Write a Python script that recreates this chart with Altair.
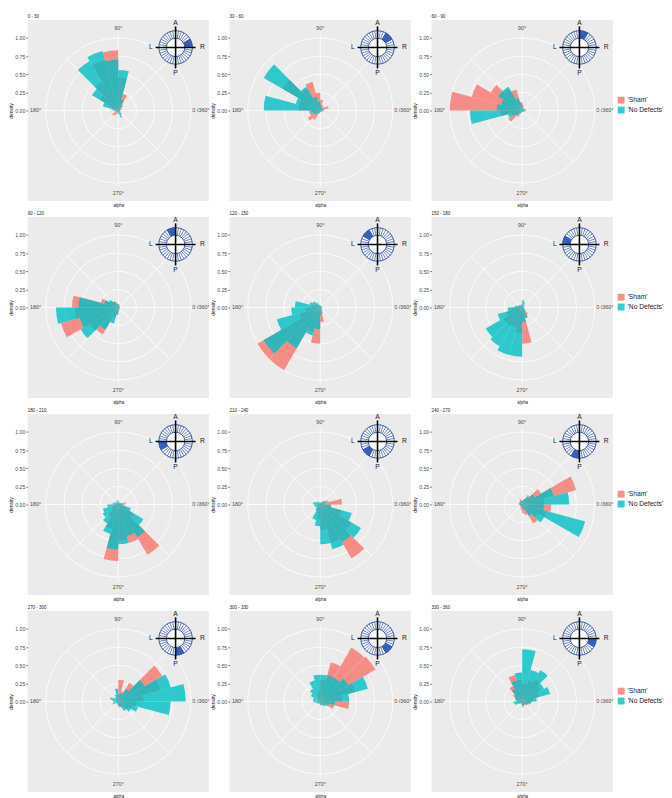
import math
import altair as alt
import pandas as pd

# ---------------- data ----------------
BIN_STARTS = list(range(0, 360, 15))   # histogram bins, degrees (0 = right, counter-clockwise)
BIN_WIDTH = 15

PANEL_TITLES = ["0 - 30", "30 - 60", "60 - 90", "90 - 120", "120 - 150", "150 - 180",
                "180 - 210", "210 - 240", "240 - 270", "270 - 300", "300 - 330", "330 - 360"]
PANEL_FROM = [0, 30, 60, 90, 120, 150, 180, 210, 240, 270, 300, 330]
PANEL_TO = [30, 60, 90, 120, 150, 180, 210, 240, 270, 300, 330, 360]

sham_000_030 = [0.03, 0.05, 0.05, 0.10, 0.24, 0.45, 0.83, 0.72, 0.45, 0.30, 0.10, 0.05,
                0.04, 0.06, 0.10, 0.08, 0.05, 0.03, 0.02, 0.03, 0.02, 0.02, 0.02, 0.02]
nodef_000_030 = [0.02, 0.03, 0.04, 0.08, 0.15, 0.56, 0.70, 0.85, 0.79, 0.42, 0.22, 0.08,
                 0.03, 0.03, 0.02, 0.02, 0.02, 0.03, 0.05, 0.10, 0.07, 0.04, 0.03, 0.02]
sham_030_060 = [0.05, 0.12, 0.08, 0.05, 0.08, 0.15, 0.25, 0.41, 0.35, 0.60, 0.30, 0.30,
                0.12, 0.15, 0.20, 0.15, 0.05, 0.03, 0.02, 0.02, 0.03, 0.03, 0.03, 0.05]
nodef_030_060 = [0.03, 0.05, 0.05, 0.05, 0.05, 0.08, 0.12, 0.20, 0.38, 0.90, 0.35, 0.78,
                 0.15, 0.10, 0.08, 0.05, 0.03, 0.02, 0.02, 0.02, 0.02, 0.02, 0.02, 0.03]
sham_060_090 = [0.05, 0.05, 0.03, 0.03, 0.05, 0.08, 0.12, 0.30, 0.35, 0.50, 0.72, 1.00,
                0.30, 0.15, 0.22, 0.10, 0.03, 0.02, 0.02, 0.02, 0.02, 0.02, 0.03, 0.05]
nodef_060_090 = [0.04, 0.04, 0.03, 0.03, 0.03, 0.05, 0.10, 0.18, 0.38, 0.38, 0.30, 0.35,
                 0.72, 0.20, 0.10, 0.05, 0.03, 0.02, 0.02, 0.02, 0.02, 0.02, 0.03, 0.04]
sham_090_120 = [0.02, 0.02, 0.02, 0.03, 0.03, 0.05, 0.05, 0.08, 0.10, 0.12, 0.25, 0.64,
                0.60, 0.82, 0.45, 0.43, 0.15, 0.08, 0.04, 0.03, 0.02, 0.02, 0.02, 0.02]
nodef_090_120 = [0.02, 0.02, 0.02, 0.02, 0.03, 0.04, 0.05, 0.06, 0.10, 0.15, 0.20, 0.55,
                 0.86, 0.55, 0.60, 0.35, 0.23, 0.10, 0.05, 0.03, 0.02, 0.02, 0.02, 0.02]
sham_120_150 = [0.02, 0.02, 0.02, 0.02, 0.02, 0.02, 0.03, 0.03, 0.05, 0.05, 0.08, 0.12,
                0.20, 0.30, 1.00, 1.00, 0.35, 0.50, 0.20, 0.08, 0.04, 0.03, 0.02, 0.02]
nodef_120_150 = [0.02, 0.02, 0.02, 0.02, 0.02, 0.02, 0.03, 0.04, 0.08, 0.12, 0.15, 0.35,
                 0.40, 0.62, 0.90, 0.65, 0.40, 0.30, 0.10, 0.05, 0.03, 0.02, 0.02, 0.02]
sham_150_180 = [0.02, 0.02, 0.02, 0.02, 0.02, 0.03, 0.03, 0.03, 0.03, 0.04, 0.05, 0.08,
                0.15, 0.22, 0.30, 0.30, 0.28, 0.35, 0.50, 0.15, 0.12, 0.05, 0.03, 0.02]
nodef_150_180 = [0.02, 0.03, 0.04, 0.05, 0.08, 0.10, 0.05, 0.04, 0.04, 0.05, 0.06, 0.10,
                 0.20, 0.35, 0.58, 0.62, 0.68, 0.68, 0.20, 0.15, 0.06, 0.04, 0.03, 0.02]
sham_180_210 = [0.10, 0.05, 0.03, 0.02, 0.02, 0.02, 0.03, 0.03, 0.02, 0.02, 0.03, 0.03,
                0.05, 0.08, 0.10, 0.20, 0.35, 0.78, 0.50, 0.55, 0.80, 0.25, 0.12, 0.05]
nodef_180_210 = [0.05, 0.04, 0.03, 0.03, 0.03, 0.04, 0.06, 0.05, 0.04, 0.05, 0.06, 0.08,
                 0.15, 0.22, 0.25, 0.30, 0.42, 0.62, 0.55, 0.45, 0.52, 0.40, 0.18, 0.08]
sham_210_240 = [0.30, 0.12, 0.05, 0.03, 0.02, 0.02, 0.02, 0.02, 0.02, 0.03, 0.03, 0.04,
                0.05, 0.05, 0.05, 0.08, 0.12, 0.20, 0.35, 0.55, 0.86, 0.50, 0.30, 0.15]
nodef_210_240 = [0.05, 0.08, 0.08, 0.05, 0.03, 0.03, 0.03, 0.03, 0.05, 0.06, 0.08, 0.10,
                 0.08, 0.08, 0.06, 0.10, 0.22, 0.30, 0.55, 0.64, 0.60, 0.65, 0.45, 0.15]
sham_240_270 = [0.30, 0.77, 0.30, 0.15, 0.08, 0.05, 0.06, 0.08, 0.05, 0.04, 0.03, 0.03,
                0.03, 0.03, 0.03, 0.04, 0.05, 0.08, 0.12, 0.15, 0.30, 0.25, 0.35, 0.40]
nodef_240_270 = [0.65, 0.45, 0.20, 0.12, 0.08, 0.05, 0.05, 0.04, 0.05, 0.05, 0.04, 0.05,
                 0.04, 0.03, 0.03, 0.03, 0.03, 0.04, 0.05, 0.08, 0.18, 0.35, 0.90, 0.30]
sham_270_300 = [0.35, 0.60, 0.70, 0.30, 0.15, 0.30, 0.10, 0.05, 0.05, 0.04, 0.04, 0.03,
                0.03, 0.03, 0.03, 0.03, 0.04, 0.05, 0.08, 0.08, 0.10, 0.15, 0.20, 0.25]
nodef_270_300 = [0.93, 0.75, 0.42, 0.20, 0.12, 0.10, 0.18, 0.10, 0.06, 0.08, 0.12, 0.08,
                 0.06, 0.08, 0.04, 0.03, 0.03, 0.03, 0.05, 0.08, 0.15, 0.20, 0.28, 0.72]
sham_300_330 = [0.30, 0.50, 0.88, 0.86, 0.56, 0.30, 0.15, 0.10, 0.05, 0.04, 0.03, 0.03,
                0.03, 0.03, 0.03, 0.03, 0.03, 0.04, 0.05, 0.06, 0.08, 0.10, 0.20, 0.40]
nodef_300_330 = [0.40, 0.68, 0.45, 0.38, 0.38, 0.37, 0.37, 0.30, 0.20, 0.15, 0.10, 0.10,
                 0.08, 0.05, 0.05, 0.03, 0.03, 0.03, 0.05, 0.05, 0.05, 0.08, 0.12, 0.20]
sham_330_360 = [0.15, 0.25, 0.30, 0.35, 0.30, 0.25, 0.30, 0.38, 0.25, 0.15, 0.10, 0.08,
                0.06, 0.05, 0.04, 0.03, 0.03, 0.04, 0.05, 0.05, 0.06, 0.08, 0.10, 0.12]
nodef_330_360 = [0.20, 0.40, 0.35, 0.50, 0.45, 0.72, 0.40, 0.30, 0.20, 0.12, 0.10, 0.08,
                 0.12, 0.10, 0.05, 0.03, 0.03, 0.04, 0.08, 0.06, 0.05, 0.06, 0.08, 0.12]

SHAM = [sham_000_030, sham_030_060, sham_060_090, sham_090_120, sham_120_150, sham_150_180,
        sham_180_210, sham_210_240, sham_240_270, sham_270_300, sham_300_330, sham_330_360]
NODEF = [nodef_000_030, nodef_030_060, nodef_060_090, nodef_090_120, nodef_120_150, nodef_150_180,
         nodef_180_210, nodef_210_240, nodef_240_270, nodef_270_300, nodef_300_330, nodef_330_360]

GROUPS = ["'Sham'", "'No Defects'"]
GROUP_COLORS = ["#F8766D", "#00BFC4"]

# polar guides
TICK_VALUES = [0, 0.25, 0.5, 0.75, 1.0]
GRID_RADII = [0.25, 0.5, 0.75, 1.0]
SPOKE_ANGLES = [0, 45, 90, 135, 180, 225, 270, 315]
SPOKE_LENGTHS = [1.06, 1.0, 1.06, 1.0, 1.06, 1.0, 1.06, 1.0]
ANGLE_LABEL_ANGLES = [0, 90, 180, 270]
ANGLE_LABEL_TEXTS = ["0 /360°", "90°", "180°", "270°"]
ANGLE_LABEL_RADIUS = 1.14

# compass inset (in data units of the panel)
COMPASS_X = 0.79
COMPASS_Y = 0.87
RING_OUTER = 0.231
RING_INNER = 0.127
RING_DIVISIONS = list(range(0, 360, 10))
CROSS_HALF_X = 0.276
CROSS_HALF_Y = 0.29
COMPASS_LETTERS = ["A", "P", "L", "R"]
LETTER_DX = [0.0, 0.0, -0.34, 0.37]
LETTER_DY = [0.33, -0.35, 0.0, 0.0]

# ---------------- styling ----------------
PANEL = 184
LIM = 1.25
FONT = "Liberation Sans"
TEXT_GRAY = "#4D4D4D"
RING_LINE = "#2A4D9C"
RING_FILL = "#3B66C6"

XS = alt.Scale(domain=[-LIM, LIM], nice=False, zero=False)
YS = alt.Scale(domain=[-LIM, LIM], nice=False, zero=False)
RS = alt.Scale(type="linear", domain=[0, LIM], range=[0, PANEL / 2], nice=False, zero=True)
TS = alt.Scale(type="linear", domain=[0, 360], range=[math.pi / 2, math.pi / 2 - 2 * math.pi],
               nice=False, zero=False)

X_AX = alt.Axis(title="alpha", labels=False, ticks=False, domain=False, grid=False,
                titleFontSize=4.5, titleFontWeight="normal", titleColor="#1A1A1A", titlePadding=1)
Y_AX = alt.Axis(title="density", values=TICK_VALUES, format=".2f", grid=False, domain=False,
                tickSize=2, tickColor="#333333", tickWidth=0.6, labelFontSize=5.2,
                labelColor=TEXT_GRAY, labelPadding=1, labelFlush=False, titleFontSize=5,
                titleFontWeight="normal", titleColor="#1A1A1A", titlePadding=1.5)


def X(f):
    return alt.X(f"{f}:Q", scale=XS, axis=X_AX)


def Y(f):
    return alt.Y(f"{f}:Q", scale=YS, axis=Y_AX)


DEG = "PI / 180"

grid_df = pd.DataFrame({"r": GRID_RADII, "t0": 0, "t1": 360})
grid_layer = alt.Chart(grid_df).mark_arc(fillOpacity=0, stroke="white", strokeWidth=0.8).encode(
    theta=alt.Theta("t0:Q", scale=TS), theta2="t1:Q", radius=alt.Radius("r:Q", scale=RS))

spoke_df = pd.DataFrame({"angle": SPOKE_ANGLES, "len": SPOKE_LENGTHS})
spoke_layer = alt.Chart(spoke_df).transform_calculate(
    x0="0", y0="0",
    x1=f"datum.len * cos(datum.angle * {DEG})",
    y1=f"datum.len * sin(datum.angle * {DEG})",
).mark_rule(color="white", strokeWidth=0.8).encode(
    x=X("x0"), y=Y("y0"), x2="x1:Q", y2="y1:Q")

alabel_df = pd.DataFrame({"angle": ANGLE_LABEL_ANGLES, "label": ANGLE_LABEL_TEXTS})
alabel_layer = alt.Chart(alabel_df).transform_calculate(
    lx=f"{ANGLE_LABEL_RADIUS} * cos(datum.angle * {DEG})",
    ly=f"{ANGLE_LABEL_RADIUS} * sin(datum.angle * {DEG})",
).mark_text(fontSize=5.5, color=TEXT_GRAY, align="center", baseline="middle").encode(
    x=X("lx"), y=Y("ly"), text="label:N")

comp_df = pd.DataFrame({"cx": [COMPASS_X], "cy": [COMPASS_Y], "t0": [0], "t1": [360],
                        "rout": [RING_OUTER], "rin": [RING_INNER]})
disk_layer = alt.Chart(comp_df).mark_arc(fill="white", stroke=RING_LINE, strokeWidth=0.9).encode(
    x=X("cx"), y=Y("cy"), theta=alt.Theta("t0:Q", scale=TS), theta2="t1:Q",
    radius=alt.Radius("rout:Q", scale=RS))
inner_layer = alt.Chart(comp_df).mark_arc(fill="white", stroke=RING_LINE, strokeWidth=0.9).encode(
    x=X("cx"), y=Y("cy"), theta=alt.Theta("t0:Q", scale=TS), theta2="t1:Q",
    radius=alt.Radius("rin:Q", scale=RS))

div_df = pd.DataFrame({"angle": RING_DIVISIONS})
div_layer = alt.Chart(div_df).transform_calculate(
    x0=f"{COMPASS_X} + {RING_INNER} * cos(datum.angle * {DEG})",
    y0=f"{COMPASS_Y} + {RING_INNER} * sin(datum.angle * {DEG})",
    x1=f"{COMPASS_X} + {RING_OUTER} * cos(datum.angle * {DEG})",
    y1=f"{COMPASS_Y} + {RING_OUTER} * sin(datum.angle * {DEG})",
).mark_rule(color=RING_LINE, strokeWidth=0.7).encode(x=X("x0"), y=Y("y0"), x2="x1:Q", y2="y1:Q")

cross_df = pd.DataFrame({
    "x0": [COMPASS_X - CROSS_HALF_X, COMPASS_X],
    "x1": [COMPASS_X + CROSS_HALF_X, COMPASS_X],
    "y0": [COMPASS_Y, COMPASS_Y - CROSS_HALF_Y],
    "y1": [COMPASS_Y, COMPASS_Y + CROSS_HALF_Y],
})
cross_layer = alt.Chart(cross_df).mark_rule(color="black", strokeWidth=1.6).encode(
    x=X("x0"), y=Y("y0"), x2="x1:Q", y2="y1:Q")

letter_df = pd.DataFrame({"letter": COMPASS_LETTERS, "dx": LETTER_DX, "dy": LETTER_DY})
letter_layer = alt.Chart(letter_df).transform_calculate(
    lx=f"{COMPASS_X} + datum.dx", ly=f"{COMPASS_Y} + datum.dy",
).mark_text(fontSize=6.8, color="#1A1A1A", align="center", baseline="middle").encode(
    x=X("lx"), y=Y("ly"), text="letter:N")


def sector_layer(i):
    df = pd.DataFrame({"cx": [COMPASS_X], "cy": [COMPASS_Y], "lo": [PANEL_FROM[i]],
                       "hi": [PANEL_TO[i]], "rout": [RING_OUTER], "rin": [RING_INNER]})
    return alt.Chart(df).mark_arc(fill=RING_FILL, stroke=RING_LINE, strokeWidth=0.6).encode(
        x=X("cx"), y=Y("cy"), theta=alt.Theta("lo:Q", scale=TS), theta2="hi:Q",
        radius=alt.Radius("rout:Q", scale=RS), radius2="rin:Q")


def bar_layer(df, group, legend):
    return alt.Chart(df).transform_filter(
        alt.FieldEqualPredicate(field="group", equal=group)
    ).transform_calculate(angle_end=f"datum.angle + {BIN_WIDTH}").mark_arc(opacity=0.8).encode(
        theta=alt.Theta("angle:Q", scale=TS),
        theta2="angle_end:Q",
        radius=alt.Radius("density:Q", scale=RS),
        color=alt.Color("group:N", scale=alt.Scale(domain=GROUPS, range=GROUP_COLORS), legend=legend),
    )


def make_panel(i):
    df = pd.DataFrame({
        "angle": BIN_STARTS + BIN_STARTS,
        "density": SHAM[i] + NODEF[i],
        "group": [GROUPS[0]] * len(BIN_STARTS) + [GROUPS[1]] * len(BIN_STARTS),
    })
    if i % 3 == 2:
        legend = alt.Legend(title=None, orient="none", legendX=PANEL + 5, legendY=78,
                            symbolType="square", symbolSize=49, symbolStrokeWidth=0,
                            symbolOpacity=0.8, labelFontSize=6.8, labelColor="#1A1A1A",
                            labelOffset=3, rowPadding=2, padding=0)
    else:
        legend = None
    layers = [grid_layer, spoke_layer, alabel_layer,
              bar_layer(df, GROUPS[0], legend), bar_layer(df, GROUPS[1], legend),
              disk_layer, sector_layer(i), div_layer, inner_layer, cross_layer, letter_layer]
    return alt.layer(*layers).properties(
        width=PANEL, height=PANEL,
        title=alt.TitleParams(PANEL_TITLES[i], anchor="start", frame="group", fontSize=4.5,
                              fontWeight="normal", offset=1.5, color="#1A1A1A"),
    )


rows = []
for r in range(4):
    rows.append(alt.hconcat(*[make_panel(3 * r + c) for c in range(3)], spacing=0)
                .resolve_scale(color="independent"))

chart = (
    alt.vconcat(*rows, spacing=4)
    .resolve_scale(color="independent")
    .properties(padding={"left": 0, "top": 0, "right": 0, "bottom": 0})
    .configure(font=FONT)
    .configure_view(fill="#EBEBEB", strokeWidth=0)
)

chart.save("out.html", embed_options={"renderer": "svg", "actions": False})
